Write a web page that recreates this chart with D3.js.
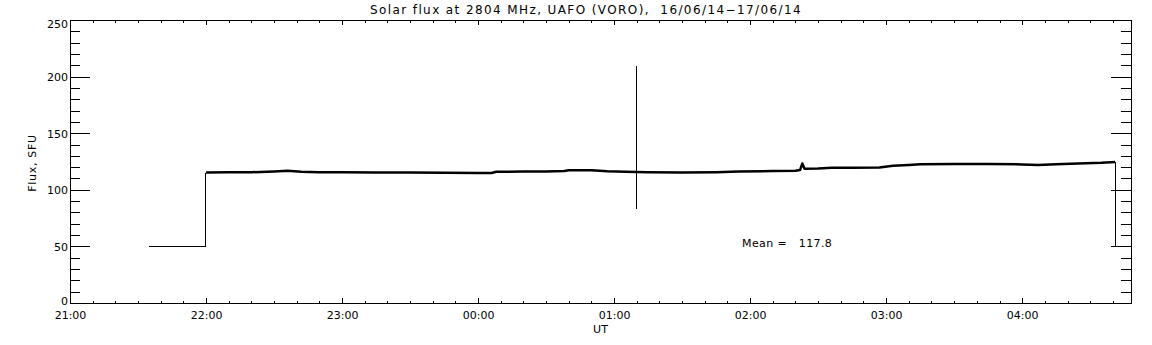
<!DOCTYPE html>
<html>
<head>
<meta charset="utf-8">
<script src="https://cdn.jsdelivr.net/npm/d3@7"></script>
<style>
  body { margin: 0; background: #fff; }
  svg text { font-family: "DejaVu Sans", sans-serif; fill: #000; }
</style>
</head>
<body>
<div id="chart"></div>
<script>

// data (UT, SFU)
var baseTimes = ["2014-06-16 21:35", "2014-06-16 21:59:40"];
var baseFlux = [50, 50];

var fluxTimes = [
    "2014-06-16 22:00", "2014-06-16 22:10", "2014-06-16 22:20", "2014-06-16 22:30",
    "2014-06-16 22:36", "2014-06-16 22:42", "2014-06-16 22:50", "2014-06-16 23:00",
    "2014-06-16 23:15", "2014-06-16 23:30", "2014-06-16 23:45", "2014-06-17 00:00",
    "2014-06-17 00:06", "2014-06-17 00:08", "2014-06-17 00:20", "2014-06-17 00:30",
    "2014-06-17 00:38", "2014-06-17 00:40", "2014-06-17 00:50", "2014-06-17 00:57",
    "2014-06-17 01:05", "2014-06-17 01:15", "2014-06-17 01:30", "2014-06-17 01:45",
    "2014-06-17 01:55", "2014-06-17 02:10", "2014-06-17 02:20", "2014-06-17 02:22",
    "2014-06-17 02:23", "2014-06-17 02:24", "2014-06-17 02:30", "2014-06-17 02:36",
    "2014-06-17 02:45", "2014-06-17 02:57", "2014-06-17 03:03", "2014-06-17 03:10",
    "2014-06-17 03:15", "2014-06-17 03:30", "2014-06-17 03:45", "2014-06-17 04:00",
    "2014-06-17 04:07", "2014-06-17 04:15", "2014-06-17 04:28", "2014-06-17 04:35",
    "2014-06-17 04:41"
];
var fluxValues = [
    115.3, 115.4, 115.5, 116.2,
    116.8, 116.0, 115.4, 115.4,
    115.3, 115.2, 115.0, 114.8,
    114.9, 116.0, 116.1, 116.2,
    116.6, 117.3, 117.2, 116.3,
    116.0, 115.6, 115.3, 115.6,
    116.1, 116.5, 116.9, 117.4,
    123.2, 118.5, 118.8, 119.4,
    119.5, 119.8, 121.3, 122.0,
    122.5, 122.8, 122.9, 122.4,
    122.0, 122.6, 123.4, 123.8,
    124.6
];

// closing drop back to the 50 level
var endTimes = ["2014-06-17 04:41", "2014-06-17 04:41"];
var endFlux = [124.6, 50];

// single spike near 01:10
var spikeTimes = ["2014-06-17 01:10", "2014-06-17 01:10"];
var spikeFlux = [83, 209];

var meanFlux = 117.8;
var yTicks = [0, 50, 100, 150, 200, 250];

var width = 1152, height = 345;
var plotLeft = 70, plotRight = 1131, plotTop = 20, plotBottom = 303;

var parse = function(s) {
    return d3.utcParse(s.length > 16 ? "%Y-%m-%d %H:%M:%S" : "%Y-%m-%d %H:%M")(s);
};

var x = d3.scaleUtc()
    .domain([parse("2014-06-16 21:00"), parse("2014-06-17 04:48")])
    .range([plotLeft, plotRight]);

var y = d3.scaleLinear()
    .domain([0, 250])
    .range([plotBottom, plotTop]);

var svg = d3.select("#chart").append("svg")
    .attr("width", width)
    .attr("height", height);

function pairs(times, vals) {
    return times.map(function(t, i) { return [parse(t), vals[i]]; });
}

var line = d3.line()
    .x(function(d) { return x(d[0]); })
    .y(function(d) { return y(d[1]); });

// thin parts: baseline before start, jump, spike, final drop
var thin = pairs(baseTimes, baseFlux).concat([[parse(fluxTimes[0]), fluxValues[0]]]);
[thin, pairs(spikeTimes, spikeFlux), pairs(endTimes, endFlux)].forEach(function(p) {
    svg.append("path")
        .attr("d", line(p))
        .attr("fill", "none")
        .attr("stroke", "#000")
        .attr("stroke-width", 1)
        .attr("shape-rendering", "crispEdges");
});

// noisy flux record, drawn thick
svg.append("path")
    .attr("d", line(pairs(fluxTimes, fluxValues)))
    .attr("fill", "none")
    .attr("stroke", "#000")
    .attr("stroke-width", 2.5)
    .attr("stroke-linejoin", "round");

// axes, ticks pointing inward on all four sides
function strip(g) {
    g.select(".domain").remove();
    g.selectAll("line").attr("stroke", "#000").attr("shape-rendering", "crispEdges");
}

var hours = d3.utcHour.every(1);
var tenMin = d3.utcMinute.every(10);

svg.append("g")
    .attr("transform", "translate(0," + plotBottom + ")")
    .call(d3.axisBottom(x).ticks(tenMin).tickSize(-2.5).tickFormat(""))
    .call(strip);
svg.append("g")
    .attr("transform", "translate(0," + plotTop + ")")
    .call(d3.axisTop(x).ticks(tenMin).tickSize(-2.5).tickFormat(""))
    .call(strip);

var xb = svg.append("g")
    .attr("transform", "translate(0," + plotBottom + ")")
    .call(d3.axisBottom(x).ticks(hours).tickSize(-5).tickPadding(8).tickFormat(d3.utcFormat("%H:%M")))
    .call(strip);
xb.selectAll("text").style("font-size", "11px");

svg.append("g")
    .attr("transform", "translate(0," + plotTop + ")")
    .call(d3.axisTop(x).ticks(hours).tickSize(-5).tickFormat(""))
    .call(strip);

var minorY = d3.range(0, 251, 10);

svg.append("g")
    .attr("transform", "translate(" + plotLeft + ",0)")
    .call(d3.axisLeft(y).tickValues(minorY).tickSize(-10).tickFormat(""))
    .call(strip);
svg.append("g")
    .attr("transform", "translate(" + plotRight + ",0)")
    .call(d3.axisRight(y).tickValues(minorY).tickSize(-10).tickFormat(""))
    .call(strip);

var yl = svg.append("g")
    .attr("transform", "translate(" + plotLeft + ",0)")
    .call(d3.axisLeft(y).tickValues(yTicks).tickSize(-20).tickPadding(2))
    .call(strip);
yl.selectAll("text")
    .style("font-size", "11px")
    .attr("dy", function(d) { return d == 250 ? "0.72em" : (d == 0 ? "0.1em" : "0.36em"); });

svg.append("g")
    .attr("transform", "translate(" + plotRight + ",0)")
    .call(d3.axisRight(y).tickValues(yTicks).tickSize(-20).tickFormat(""))
    .call(strip);

// frame
svg.append("rect")
    .attr("x", plotLeft)
    .attr("y", plotTop)
    .attr("width", plotRight - plotLeft)
    .attr("height", plotBottom - plotTop)
    .attr("fill", "none")
    .attr("stroke", "#000")
    .attr("shape-rendering", "crispEdges");

svg.append("text")
    .text("Solar flux at 2804 MHz, UAFO (VORO),  16/06/14\u221217/06/14")
    .attr("x", 586)
    .attr("y", 14)
    .attr("text-anchor", "middle")
    .style("white-space", "pre")
    .style("letter-spacing", "1.4px")
    .style("font-size", "12px");

svg.append("text")
    .text("UT")
    .attr("x", (plotLeft + plotRight) / 2)
    .attr("y", 333)
    .attr("text-anchor", "middle")
    .style("font-size", "11px");

svg.append("text")
    .text("Flux, SFU")
    .attr("transform", "translate(36,163) rotate(-90)")
    .attr("text-anchor", "middle")
    .style("letter-spacing", "0.7px")
    .style("font-size", "11px");

svg.append("text")
    .text("Mean =   " + meanFlux.toFixed(1))
    .attr("x", 742)
    .attr("y", 247)
    .style("white-space", "pre")
    .style("letter-spacing", "0.4px")
    .style("font-size", "11px");

</script>
</body>
</html>
